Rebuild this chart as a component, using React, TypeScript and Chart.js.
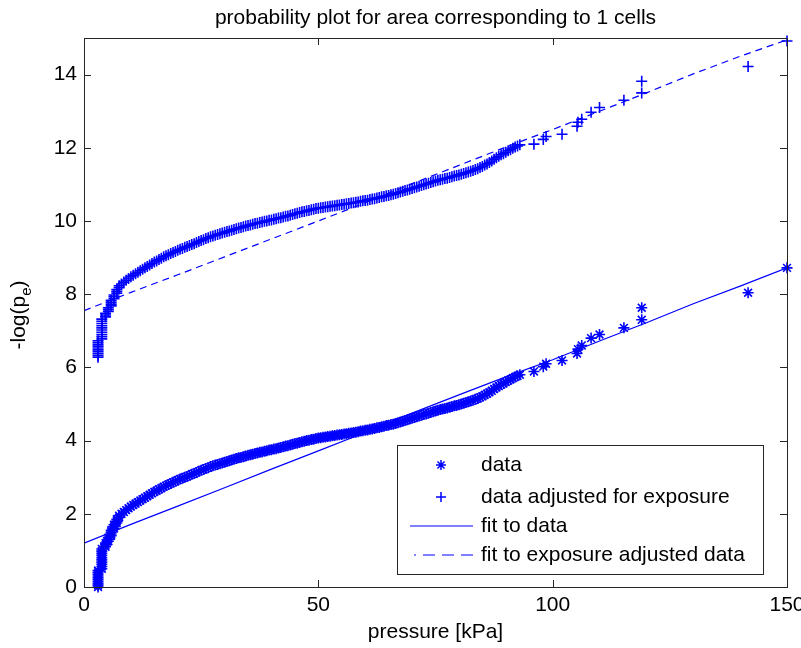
import React, { useEffect, useRef } from 'react';
import { Chart, registerables } from 'chart.js';

Chart.register(...registerables);

const FONT = "'Liberation Sans', Arial, Helvetica, sans-serif";
const BLUE = '#0000ff';
const INK = '#000000';
const AXIS = '#262626';

const titleText = 'probability plot for area corresponding to 1 cells';
const xAxisTitle = 'pressure [kPa]';
const legendLabels = ['data', 'data adjusted for exposure', 'fit to data', 'fit to exposure adjusted data'];

const xRange = [0, 150];
const yRange = [0, 15];
const xStep = 50;
const yStep = 2;

// pressure values of the sorted samples [kPa]
const pressure = [
  3.0, 3.0, 3.0, 3.0, 3.0, 3.0, 3.0, 3.0, 3.0, 3.0,
  3.8, 3.8, 3.8, 3.8, 3.8, 3.8, 3.8, 3.8, 3.8, 3.8,
  4.6, 4.6, 4.6, 5.2, 5.2, 5.2, 5.8, 5.8, 5.8, 5.8,
  6.4, 6.4, 6.4, 7.0, 7.0, 7.0, 7.5, 7.5,
  8.0, 8.5, 9.0, 9.5, 10.0, 10.5, 11.0, 11.5, 12.0, 12.5, 13.0, 13.5,
  14.0, 14.5, 15.0, 15.5, 16.0, 16.5, 17.0, 17.5, 18.0, 18.5, 19.0, 19.5,
  20.0, 20.5, 21.0, 21.5, 22.0, 22.5, 23.0, 23.5, 24.0, 24.5, 25.0, 25.5,
  26.0, 26.5, 27.0, 27.5, 28.0, 28.5, 29.0, 29.5, 30.0, 30.5, 31.0, 31.5,
  32.0, 32.5, 33.0, 33.5, 34.0, 34.5, 35.0, 35.5, 36.0, 36.5, 37.0, 37.5,
  38.0, 38.5, 39.0, 39.5, 40.0, 40.5, 41.0, 41.5, 42.0, 42.5, 43.0, 43.5,
  44.0, 44.5, 45.0, 45.5, 46.0, 46.5, 47.0, 47.5, 48.0, 48.5, 49.0, 49.5,
  50.0, 50.5, 51.0, 51.5, 52.0, 52.5, 53.0, 53.5, 54.0, 54.5, 55.0, 55.5,
  56.0, 56.5, 57.0, 57.5, 58.0, 58.5, 59.0, 59.5, 60.0, 60.5, 61.0, 61.5,
  62.0, 62.5, 63.0, 63.5, 64.0, 64.5, 65.0, 65.5, 66.0, 66.5, 67.0, 67.5,
  68.0, 68.5, 69.0, 69.5, 70.0, 70.5, 71.0, 71.5, 72.0, 72.5, 73.0, 73.5,
  74.0, 74.5, 75.0, 75.5, 76.0, 76.5, 77.0, 77.5, 78.0, 78.5, 79.0, 79.5,
  80.0, 80.5, 81.0, 81.5, 82.0, 82.5, 83.0, 83.5, 84.0, 84.5, 85.0, 85.5,
  86.0, 86.5, 87.0, 87.5, 88.0, 88.5, 89.0, 89.5, 90.0, 90.5, 91.0, 91.5,
  92.0, 92.5, 93.0,
  96.0, 98.0, 98.6, 102.0, 105.2, 105.4, 106.2, 108.2, 110.0, 115.2, 119.0, 119.0, 141.7, 150.0,
];

// -log(p_e) of the raw data
const dataLogP = [
  0.00, 0.05, 0.10, 0.15, 0.20, 0.25, 0.30, 0.35, 0.40, 0.45,
  0.50, 0.56, 0.62, 0.68, 0.74, 0.80, 0.86, 0.92, 0.98, 1.04,
  1.10, 1.15, 1.20, 1.25, 1.30, 1.35, 1.40, 1.45, 1.50, 1.55,
  1.60, 1.65, 1.70, 1.75, 1.80, 1.85, 1.90, 1.95,
  2.00, 2.05, 2.10, 2.15, 2.20, 2.24, 2.28, 2.32, 2.36, 2.40, 2.44, 2.48,
  2.52, 2.56, 2.60, 2.63, 2.67, 2.70, 2.74, 2.77, 2.80, 2.83, 2.86, 2.89,
  2.92, 2.95, 2.97, 3.00, 3.02, 3.05, 3.08, 3.10, 3.13, 3.16, 3.19, 3.21,
  3.24, 3.26, 3.29, 3.31, 3.33, 3.35, 3.37, 3.39, 3.41, 3.43, 3.45, 3.47,
  3.49, 3.51, 3.53, 3.54, 3.56, 3.58, 3.60, 3.61, 3.63, 3.65, 3.66, 3.68,
  3.69, 3.71, 3.72, 3.74, 3.75, 3.77, 3.78, 3.80, 3.81, 3.83, 3.85, 3.86,
  3.88, 3.90, 3.92, 3.93, 3.95, 3.97, 3.98, 4.00, 4.01, 4.03, 4.04, 4.06,
  4.07, 4.08, 4.09, 4.10, 4.11, 4.12, 4.13, 4.14, 4.15, 4.16, 4.17, 4.18,
  4.19, 4.20, 4.21, 4.22, 4.23, 4.24, 4.26, 4.27, 4.28, 4.29, 4.31, 4.32,
  4.33, 4.35, 4.36, 4.38, 4.39, 4.41, 4.42, 4.44, 4.45, 4.47, 4.49, 4.51,
  4.53, 4.55, 4.57, 4.59, 4.61, 4.63, 4.65, 4.67, 4.69, 4.71, 4.73, 4.75,
  4.77, 4.79, 4.81, 4.83, 4.85, 4.86, 4.88, 4.89, 4.91, 4.93, 4.95, 4.96,
  4.98, 5.00, 5.02, 5.04, 5.06, 5.08, 5.10, 5.13, 5.15, 5.18, 5.21, 5.25,
  5.28, 5.32, 5.36, 5.41, 5.45, 5.49, 5.53, 5.56, 5.60, 5.64, 5.67, 5.71,
  5.74, 5.77, 5.80,
  5.89, 6.02, 6.10, 6.19, 6.38, 6.50, 6.60, 6.80, 6.90, 7.08, 7.30, 7.63, 8.04, 8.72,
];

// -log(p_e) of the data adjusted for exposure
const adjustedLogP = [
  6.28, 6.33, 6.38, 6.43, 6.48, 6.53, 6.58, 6.63, 6.68, 6.73,
  6.78, 6.84, 6.90, 6.96, 7.02, 7.08, 7.14, 7.20, 7.26, 7.32,
  7.38, 7.43, 7.48, 7.53, 7.58, 7.63, 7.68, 7.73, 7.78, 7.83,
  7.88, 7.93, 7.98, 8.03, 8.08, 8.13, 8.18, 8.23,
  8.28, 8.33, 8.38, 8.43, 8.48, 8.52, 8.56, 8.60, 8.64, 8.68, 8.72, 8.76,
  8.80, 8.84, 8.88, 8.91, 8.95, 8.98, 9.02, 9.05, 9.08, 9.11, 9.14, 9.17,
  9.20, 9.23, 9.25, 9.28, 9.30, 9.33, 9.36, 9.38, 9.41, 9.44, 9.47, 9.49,
  9.52, 9.54, 9.57, 9.59, 9.61, 9.63, 9.65, 9.67, 9.69, 9.71, 9.73, 9.75,
  9.77, 9.79, 9.81, 9.82, 9.84, 9.86, 9.88, 9.89, 9.91, 9.93, 9.94, 9.96,
  9.97, 9.99, 10.00, 10.02, 10.03, 10.05, 10.06, 10.08, 10.09, 10.11, 10.13, 10.14,
  10.16, 10.18, 10.20, 10.21, 10.23, 10.25, 10.26, 10.28, 10.29, 10.31, 10.32, 10.34,
  10.35, 10.36, 10.37, 10.38, 10.39, 10.40, 10.41, 10.42, 10.43, 10.44, 10.45, 10.46,
  10.47, 10.48, 10.49, 10.50, 10.51, 10.52, 10.54, 10.55, 10.56, 10.57, 10.59, 10.60,
  10.61, 10.63, 10.64, 10.66, 10.67, 10.69, 10.70, 10.72, 10.73, 10.75, 10.77, 10.79,
  10.81, 10.83, 10.85, 10.87, 10.89, 10.91, 10.93, 10.95, 10.97, 10.99, 11.01, 11.03,
  11.05, 11.07, 11.09, 11.11, 11.13, 11.14, 11.16, 11.17, 11.19, 11.21, 11.23, 11.24,
  11.26, 11.28, 11.30, 11.32, 11.34, 11.36, 11.38, 11.41, 11.43, 11.46, 11.49, 11.53,
  11.56, 11.60, 11.64, 11.69, 11.73, 11.77, 11.81, 11.84, 11.88, 11.92, 11.95, 11.99,
  12.02, 12.05, 12.08,
  12.10, 12.23, 12.31, 12.37, 12.59, 12.70, 12.78, 12.97, 13.10, 13.30, 13.50, 13.82, 14.22, 14.92,
];

// fitted lines
const fitPressure = [0, 10, 20, 30, 40, 50, 60, 70, 80, 90, 100, 110, 120, 130, 140, 150];
const fitDataLogP = [1.20, 1.71, 2.21, 2.71, 3.22, 3.72, 4.22, 4.75, 5.25, 5.74, 6.21, 6.72, 7.22, 7.74, 8.22, 8.72];
const fitAdjustedLogP = [7.55, 8.05, 8.53, 9.02, 9.51, 10.00, 10.50, 11.02, 11.52, 12.02, 12.50, 13.00, 13.50, 14.02, 14.50, 14.95];

const toPoints = (xs: number[], ys: number[]) => xs.map((x, i) => ({ x, y: ys[i] }));

const decorPlugin = {
  id: 'decor',
  afterDraw(chart: any) {
    const { ctx, chartArea: a, scales } = chart;
    const xs = scales.x;
    const ys = scales.y;
    ctx.save();

    // axes box
    ctx.strokeStyle = AXIS;
    ctx.lineWidth = 1;
    ctx.strokeRect(a.left + 0.5, a.top + 0.5, a.right - a.left, a.bottom - a.top);

    // inward ticks on all four sides
    const tl = 7;
    ctx.beginPath();
    xs.ticks.forEach((t: any) => {
      const px = Math.round(xs.getPixelForValue(t.value)) + 0.5;
      ctx.moveTo(px, a.bottom);
      ctx.lineTo(px, a.bottom - tl);
      ctx.moveTo(px, a.top);
      ctx.lineTo(px, a.top + tl);
    });
    ys.ticks.forEach((t: any) => {
      const py = Math.round(ys.getPixelForValue(t.value)) + 0.5;
      ctx.moveTo(a.left, py);
      ctx.lineTo(a.left + tl, py);
      ctx.moveTo(a.right, py);
      ctx.lineTo(a.right - tl, py);
    });
    ctx.stroke();

    // title
    ctx.fillStyle = INK;
    ctx.font = `21px ${FONT}`;
    ctx.textAlign = 'center';
    ctx.textBaseline = 'middle';
    ctx.fillText(titleText, (a.left + a.right) / 2, 18);

    // x axis title
    ctx.fillText(xAxisTitle, (a.left + a.right) / 2, 632);

    // y axis title with subscript
    ctx.save();
    ctx.translate(25, 315);
    ctx.rotate(-Math.PI / 2);
    ctx.textAlign = 'left';
    ctx.textBaseline = 'alphabetic';
    const p1 = '-log(p';
    const p2 = 'e';
    const p3 = ')';
    ctx.font = `21px ${FONT}`;
    const w1 = ctx.measureText(p1).width;
    const w3 = ctx.measureText(p3).width;
    ctx.font = `15px ${FONT}`;
    const w2 = ctx.measureText(p2).width;
    const x0 = -(w1 + w2 + w3) / 2;
    ctx.font = `21px ${FONT}`;
    ctx.fillText(p1, x0, 0);
    ctx.font = `15px ${FONT}`;
    ctx.fillText(p2, x0 + w1, 6);
    ctx.font = `21px ${FONT}`;
    ctx.fillText(p3, x0 + w1 + w2, 0);
    ctx.restore();

    // legend
    const boxL = 397;
    const boxT = a.bottom - 142;
    const boxR = a.right - 24;
    const boxB = a.bottom - 13;
    ctx.fillStyle = '#ffffff';
    ctx.fillRect(boxL, boxT, boxR - boxL, boxB - boxT);
    ctx.strokeStyle = AXIS;
    ctx.lineWidth = 1;
    ctx.strokeRect(boxL + 0.5, boxT + 0.5, boxR - boxL, boxB - boxT);

    const rowsY = [465, 497, 526, 555];
    const markX = 441;
    const lineX1 = 410;
    const lineX2 = 473;
    const textX = 481;
    ctx.strokeStyle = BLUE;
    ctx.lineWidth = 1.5;
    const r = 5;
    // asterisk
    ctx.beginPath();
    for (let k = 0; k < 4; k++) {
      const ang = (k * Math.PI) / 4;
      ctx.moveTo(markX - r * Math.cos(ang), rowsY[0] - r * Math.sin(ang));
      ctx.lineTo(markX + r * Math.cos(ang), rowsY[0] + r * Math.sin(ang));
    }
    ctx.stroke();
    // plus
    ctx.beginPath();
    ctx.moveTo(markX - r, rowsY[1]);
    ctx.lineTo(markX + r, rowsY[1]);
    ctx.moveTo(markX, rowsY[1] - r);
    ctx.lineTo(markX, rowsY[1] + r);
    ctx.stroke();
    // solid
    ctx.lineWidth = 1.2;
    ctx.beginPath();
    ctx.moveTo(lineX1, rowsY[2]);
    ctx.lineTo(lineX2, rowsY[2]);
    ctx.stroke();
    // dashed
    ctx.setLineDash([12, 7]);
    ctx.beginPath();
    ctx.moveTo(lineX2, rowsY[3]);
    ctx.lineTo(lineX1 + 4, rowsY[3]);
    ctx.stroke();
    ctx.setLineDash([]);

    ctx.fillStyle = INK;
    ctx.font = `21px ${FONT}`;
    ctx.textAlign = 'left';
    ctx.textBaseline = 'middle';
    legendLabels.forEach((lab, i) => ctx.fillText(lab, textX, rowsY[i]));

    ctx.restore();
  },
};

export default function App() {
  const ref = useRef<HTMLCanvasElement | null>(null);

  useEffect(() => {
    if (!ref.current) return;
    const chart = new Chart(ref.current, {
      type: 'scatter',
      data: {
        datasets: [
          {
            label: legendLabels[2],
            data: toPoints(fitPressure, fitDataLogP),
            showLine: true,
            borderColor: BLUE,
            borderWidth: 1.2,
            pointRadius: 0,
            order: 0,
          },
          {
            label: legendLabels[3],
            data: toPoints(fitPressure, fitAdjustedLogP),
            showLine: true,
            borderColor: BLUE,
            borderWidth: 1.2,
            borderDash: [7, 5],
            pointRadius: 0,
            order: 0,
          },
          {
            label: legendLabels[0],
            data: toPoints(pressure, dataLogP),
            pointStyle: 'star',
            pointRadius: 5.5,
            pointBorderWidth: 1.6,
            borderColor: BLUE,
            backgroundColor: BLUE,
            clip: false,
            order: 1,
          },
          {
            label: legendLabels[1],
            data: toPoints(pressure, adjustedLogP),
            pointStyle: 'cross',
            pointRadius: 5.5,
            pointBorderWidth: 1.6,
            borderColor: BLUE,
            backgroundColor: BLUE,
            clip: false,
            order: 1,
          },
        ] as any,
      },
      options: {
        responsive: false,
        animation: false,
        events: [],
        layout: { padding: { left: 0, top: 38, right: 14, bottom: 0 } },
        plugins: {
          legend: { display: false },
          title: { display: false },
          tooltip: { enabled: false },
        },
        scales: {
          x: {
            type: 'linear',
            min: xRange[0],
            max: xRange[1],
            grid: { display: false, drawTicks: false },
            border: { display: false },
            ticks: {
              stepSize: xStep,
              padding: 6,
              color: INK,
              font: { family: FONT, size: 21 },
              maxRotation: 0,
            },
            afterFit: (s: any) => {
              s.height = 61;
              s.paddingLeft = 0;
              s.paddingRight = 0;
              s.paddingTop = 0;
              s.paddingBottom = 0;
            },
          },
          y: {
            type: 'linear',
            min: yRange[0],
            max: yRange[1],
            grid: { display: false, drawTicks: false },
            border: { display: false },
            ticks: {
              stepSize: yStep,
              includeBounds: false,
              padding: 7,
              color: INK,
              font: { family: FONT, size: 21 },
            },
            afterFit: (s: any) => {
              s.width = 84;
              s.paddingLeft = 0;
              s.paddingRight = 0;
              s.paddingTop = 0;
              s.paddingBottom = 0;
            },
          },
        },
      },
      plugins: [decorPlugin],
    });
    return () => chart.destroy();
  }, []);

  return (
    <div style={{ position: 'absolute', left: 0, top: 0, width: 801, height: 648, background: '#fff' }}>
      <canvas ref={ref} width={801} height={648} style={{ display: 'block' }} />
    </div>
  );
}
